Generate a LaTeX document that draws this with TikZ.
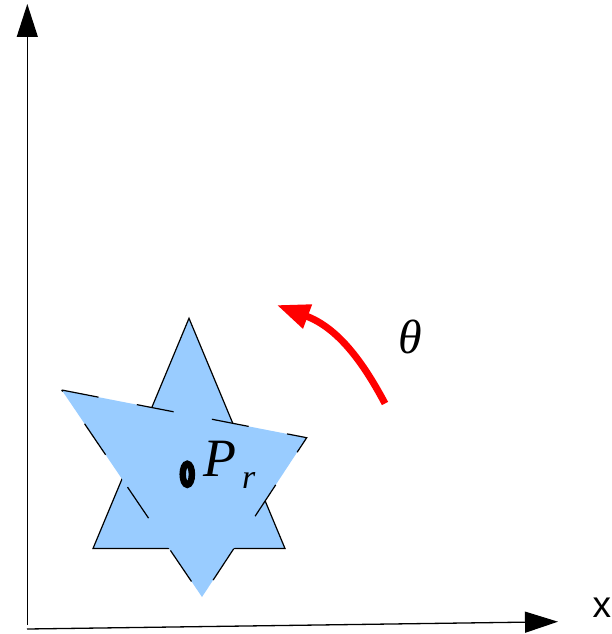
\documentclass[tikz,border=0pt]{standalone}
\usepackage{fontspec}
\setmainfont{Liberation Serif}
\newfontfamily\labsans{Liberation Sans}
\usetikzlibrary{arrows.meta}
\definecolor{starblue}{RGB}{153,204,255}
\definecolor{rotred}{RGB}{255,0,0}
\tikzset{
  axisline/.style={line width=1.3pt, black, -{Triangle[length=33pt,width=21pt]}},
  shapeA/.style={fill=starblue, draw=black, line width=1.2pt, line join=miter},
  shapeB/.style={fill=starblue, draw=black, line width=1.2pt, dash pattern=on 37.5pt off 39pt},
  rotarrow/.style={line width=7pt, rotred, -{Triangle[length=33pt,width=24pt]}},
  lab/.style={inner sep=0pt, anchor=base west}
}
\begin{document}
\begin{tikzpicture}[x=1pt,y=-1pt]
\useasboundingbox (0,0) rectangle (611,634);
% axes
\coordinate (yb) at (27.3,625);
\coordinate (yt) at (27.3,4);
\coordinate (xb) at (27,629);
\coordinate (xt) at (558,621.7);
\draw[axisline] (yb) -- (yt);
\draw[axisline] (xb) -- (xt);
\node[lab, font=\labsans\fontsize{37}{37}\selectfont] (xlab) at (592.5,617) {x};
% upright triangle
\coordinate (a1) at (189,318.3);
\coordinate (a2) at (93,548.5);
\coordinate (a3) at (285,548.5);
\path[shapeA] (a1) -- (a2) -- (a3) -- cycle;
% rotated triangle
\coordinate (b1) at (61.7,390);
\coordinate (b2) at (306.7,437.7);
\coordinate (b3) at (202,597);
\path[shapeB] (b1) -- (b2) -- (b3) -- cycle;
% reference point
\coordinate (pr) at (187.3,474.3);
\draw[line width=6.5pt] (pr) ellipse [x radius=4.6pt, y radius=10.5pt];
\node[lab, font=\fontsize{54}{54}\selectfont\itshape] (plab) at (203,476.7) {P};
\node[lab, font=\fontsize{34}{34}\selectfont\itshape] (rlab) at (242,488) {r};
% rotation arrow
\coordinate (rs) at (385,403.5);
\coordinate (re) at (276.7,305);
\draw[rotarrow] (rs) .. controls (363,362) and (338,328) .. (re);
\node[lab, font=\fontsize{48}{48}\selectfont\itshape] (th) at (398,353) {θ};
\end{tikzpicture}
\end{document}
